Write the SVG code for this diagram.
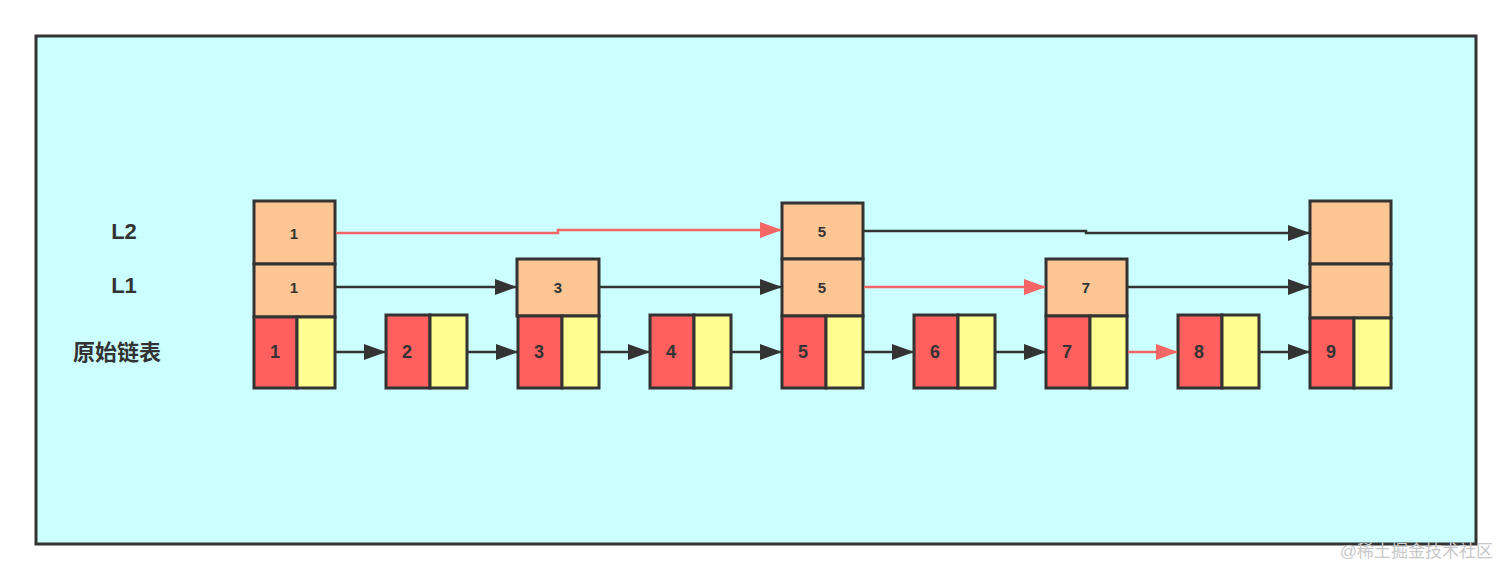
<svg xmlns="http://www.w3.org/2000/svg" width="1512" height="580" viewBox="0 0 1512 580">
<style>
.b{stroke:#333;stroke-width:3}
.o{fill:#fcc694}.r{fill:#fe6060}.y{fill:#fefe90}
.t{font-family:"Liberation Sans","Noto Sans CJK SC",sans-serif;font-weight:bold;fill:#333;text-anchor:middle;dominant-baseline:central}
.n{font-size:18px}.s{font-size:15px}.l{font-size:22px}
.k{stroke:#333;stroke-width:2.5;fill:none}.e{stroke:#f46565;stroke-width:2.5;fill:none}
</style>
<defs>
<marker id="ak" markerWidth="22" markerHeight="16" refX="21" refY="8" orient="auto" markerUnits="userSpaceOnUse"><path d="M0,0L22,8L0,16z" fill="#333"/></marker>
<marker id="ar" markerWidth="22" markerHeight="16" refX="21" refY="8" orient="auto" markerUnits="userSpaceOnUse"><path d="M0,0L22,8L0,16z" fill="#f46565"/></marker>
</defs>
<rect x="0" y="0" width="1512" height="580" fill="#fff"/>
<rect x="36" y="36" width="1440" height="508" fill="#ccffff" stroke="#333" stroke-width="3"/>
<text class="t l" x="124" y="231">L2</text>
<text class="t l" x="124" y="285">L1</text>
<text class="t l" x="117" y="352">原始链表</text>
<g id="n1"><rect class="b o" x="254" y="201" width="81" height="63"/><text class="t s" x="294" y="233">1</text><rect class="b o" x="254" y="264" width="81" height="53"/><text class="t s" x="294" y="287">1</text><rect class="b r" x="254" y="317" width="43" height="71"/><rect class="b y" x="297" y="317" width="38" height="71"/><text class="t n" x="275" y="352">1</text></g>
<g id="n2"><rect class="b r" x="386" y="315" width="44" height="73"/><rect class="b y" x="430" y="315" width="37" height="73"/><text class="t n" x="407" y="352">2</text></g>
<g id="n3"><rect class="b o" x="517" y="259" width="82" height="57"/><text class="t s" x="558" y="287">3</text><rect class="b r" x="518" y="316" width="44" height="72"/><rect class="b y" x="562" y="316" width="37" height="72"/><text class="t n" x="539" y="352">3</text></g>
<g id="n4"><rect class="b r" x="650" y="315" width="44" height="73"/><rect class="b y" x="694" y="315" width="37" height="73"/><text class="t n" x="671" y="352">4</text></g>
<g id="n5"><rect class="b o" x="782" y="203" width="81" height="56"/><text class="t s" x="822" y="231">5</text><rect class="b o" x="782" y="259" width="81" height="57"/><text class="t s" x="822" y="287">5</text><rect class="b r" x="782" y="316" width="44" height="72"/><rect class="b y" x="826" y="316" width="37" height="72"/><text class="t n" x="803" y="352">5</text></g>
<g id="n6"><rect class="b r" x="914" y="315" width="44" height="73"/><rect class="b y" x="958" y="315" width="37" height="73"/><text class="t n" x="935" y="352">6</text></g>
<g id="n7"><rect class="b o" x="1046" y="259" width="81" height="57"/><text class="t s" x="1086" y="287">7</text><rect class="b r" x="1046" y="316" width="44" height="72"/><rect class="b y" x="1090" y="316" width="37" height="72"/><text class="t n" x="1067" y="352">7</text></g>
<g id="n8"><rect class="b r" x="1178" y="315" width="44" height="73"/><rect class="b y" x="1222" y="315" width="37" height="73"/><text class="t n" x="1199" y="352">8</text></g>
<g id="n9"><rect class="b o" x="1310" y="201" width="81" height="63"/><rect class="b o" x="1310" y="264" width="81" height="54"/><rect class="b r" x="1310" y="318" width="44" height="70"/><rect class="b y" x="1354" y="318" width="37" height="70"/><text class="t n" x="1331" y="352">9</text></g>
<g id="edges">
<path class="e" d="M336,233H558V230H781" marker-end="url(#ar)"/>
<path class="k" d="M864,231H1086V233H1309" marker-end="url(#ak)"/>
<path class="k" d="M336,287H516" marker-end="url(#ak)"/>
<path class="k" d="M600,287H781" marker-end="url(#ak)"/>
<path class="e" d="M864,287H1045" marker-end="url(#ar)"/>
<path class="k" d="M1128,287H1309" marker-end="url(#ak)"/>
<path class="k" d="M336,352H385" marker-end="url(#ak)"/>
<path class="k" d="M468,352H517" marker-end="url(#ak)"/>
<path class="k" d="M600,352H649" marker-end="url(#ak)"/>
<path class="k" d="M732,352H781" marker-end="url(#ak)"/>
<path class="k" d="M864,352H913" marker-end="url(#ak)"/>
<path class="k" d="M996,352H1045" marker-end="url(#ak)"/>
<path class="e" d="M1128,352H1177" marker-end="url(#ar)"/>
<path class="k" d="M1260,352H1309" marker-end="url(#ak)"/>
</g>
<text x="1493" y="557" font-family="'Liberation Sans','Noto Sans CJK SC',sans-serif" font-size="17" fill="#c8c8c8" text-anchor="end">@稀土掘金技术社区</text>
</svg>
